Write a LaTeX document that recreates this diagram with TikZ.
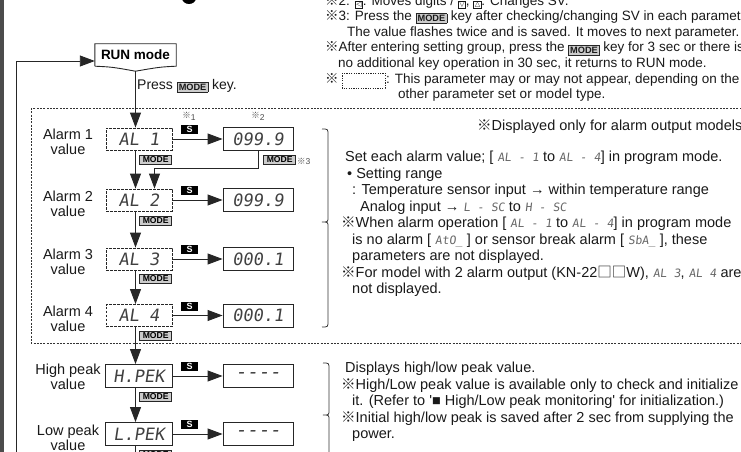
\documentclass[tikz,border=0pt]{standalone}
\usepackage{fontspec}
\setmainfont{Liberation Sans}
\newfontfamily\cjk{Noto Sans CJK JP}
\newfontfamily\segfont{DejaVu Sans Mono}[FakeSlant=0.15]
\newfontfamily\segsmall{DejaVu Sans Mono}[FakeSlant=0.12]
\newfontfamily\symfont{DejaVu Sans}
\usetikzlibrary{arrows.meta}
\newcommand\km{{\cjk ※}}
\newcommand\sq{{\cjk □}}
\newcommand\sg[1]{{\segsmall\fontsize{11.5}{11.5}\selectfont\color{black!60}#1}}
\newcommand\mk{\raisebox{-1.2pt}{\setlength\fboxsep{1.3pt}\setlength\fboxrule{0.6pt}\fcolorbox{black!85}{black!20}{\bfseries\fontsize{9.2}{9.2}\selectfont MODE}}}
\newcommand\symk[1]{\raisebox{-0.8pt}{\setlength\fboxsep{0.7pt}\setlength\fboxrule{0.6pt}\fbox{\symfont\fontsize{7}{7}\selectfont #1}}}
\tikzset{
 ln/.style={draw=black!85, line width=0.9pt},
 arr/.style={ln, -{Triangle[length=15pt,width=11pt]}},
 dbox/.style={draw=black!85, line width=0.9pt, dash pattern=on 2.6pt off 1.4pt, minimum width=66pt, minimum height=22pt, inner sep=0pt, font=\segfont\fontsize{17}{17}\selectfont, text=black!75},
 vbox/.style={draw=black!85, line width=0.9pt, minimum width=70pt, minimum height=23pt, inner sep=0pt, font=\segfont\fontsize{17}{17}\selectfont, text=black!75},
 skey/.style={fill=black, text=white, font=\bfseries\fontsize{9}{9}\selectfont, minimum width=17pt, minimum height=9pt, inner sep=0pt},
 mkey/.style={draw=black!85, fill=black!20, line width=0.6pt, font=\bfseries\fontsize{8.6}{8.6}\selectfont, minimum width=32pt, minimum height=9.5pt, inner sep=0pt, anchor=east},
 lbl/.style={font=\fontsize{14.5}{15}\selectfont, align=center, text=black!90},
 ntxt/.style={font=\fontsize{13.5}{16}\selectfont, anchor=base west, inner sep=0pt, text=black!90},
 txt/.style={font=\fontsize{14.5}{16}\selectfont, anchor=base west, inner sep=0pt, text=black!90},
 refm/.style={font=\fontsize{8.5}{9}\selectfont, text=black!70, inner sep=0pt}
}
\begin{document}
\begin{tikzpicture}[x=1pt,y=-1pt]
\useasboundingbox (0,0) rectangle (741,452);
\clip (0,0) rectangle (741,452);
% page edge bar and heading fragment
\fill[black!70] (0,0) rectangle (4,452);
\fill[black] (189,-2) ellipse [x radius=7pt, y radius=6pt];
% top notes
\node[ntxt] (n1) at (325,6) {\km2: \symk{◁}: Moves digits / \symk{▽}, \symk{△}: Changes SV.};
\node[ntxt] (n2) at (325,20.5) {\km3: Press the \mk\ key after checking/changing SV in each parameter};
\node[ntxt] (n3) at (347,36.5) {The value flashes twice and is saved. It moves to next parameter.};
\node[ntxt] (n4) at (325,52) {\km After entering setting group, press the \mk\ key for 3 sec or there is};
\node[ntxt] (n5) at (338,67.5) {no additional key operation in 30 sec, it returns to RUN mode.};
\node[ntxt] (n6) at (325,83) {\km};
\draw[black!85, line width=0.8pt, dash pattern=on 1.2pt off 1.2pt] (342,73) rectangle (385,88);
\node[ntxt] (n6b) at (386,83) {: This parameter may or may not appear, depending on the};
\node[ntxt] (n7) at (398,98) {other parameter set or model type.};
% RUN mode
\node[font=\bfseries\fontsize{13.5}{14}\selectfont, minimum width=81pt, minimum height=22pt, inner sep=0pt] (run) at (135.5,55) {RUN mode};
\draw[ln] (run.south west) -- (run.north west) -- (run.north east) -- (run.south east)
  .. controls (160,67) .. ([yshift=-5pt]run.south) .. controls (112,67) .. (run.south west);
\node[txt, font=\fontsize{14}{16}\selectfont] (press) at (137,89) {Press \mk\ key.};
% dashed group frame
\draw[black!80, line width=0.9pt, dash pattern=on 2pt off 1.3pt] (31,108) rectangle (770,343);
% labels
\node[lbl] (la1) at (68,141.5) {Alarm 1\\value};
\node[lbl] (la2) at (68,204) {Alarm 2\\value};
\node[lbl] (la3) at (68,261.5) {Alarm 3\\value};
\node[lbl] (la4) at (68,318.5) {Alarm 4\\value};
\node[lbl] (lh) at (68,377) {High peak\\value};
\node[lbl] (ll) at (68,437.5) {Low peak\\value};
% parameter boxes
\node[dbox] (a1) at (139,139) {AL 1};
\node[dbox] (a2) at (139,200) {AL 2};
\node[dbox] (a3) at (139,259) {AL 3};
\node[dbox] (a4) at (139,315.5) {AL 4};
\node[vbox, minimum width=67pt] (hp) at (139,376) {H.PEK};
\node[vbox, minimum width=67pt] (lp) at (139,434) {L.PEK};
% value boxes
\node[vbox] (v1) at (258,139) {099.9};
\node[vbox] (v2) at (258,200) {099.9};
\node[vbox] (v3) at (258,259) {000.1};
\node[vbox] (v4) at (258,315.5) {000.1};
\node[vbox, font=\segfont\fontsize{19}{19}\selectfont] (v5) at (258,376) {----};
\node[vbox, font=\segfont\fontsize{19}{19}\selectfont] (v6) at (258,434) {----};
% S keys
\node[skey] (s1) at (189.5,129.5) {S};
\node[skey] (s2) at (189.5,190.5) {S};
\node[skey] (s3) at (189.5,249.5) {S};
\node[skey] (s4) at (189.5,306) {S};
\node[skey] (s5) at (189.5,366.5) {S};
\node[skey] (s6) at (189.5,424.5) {S};
% MODE keys
\node[mkey] (m1) at (172,160) {MODE};
\node[mkey] (m2) at (172,221) {MODE};
\node[mkey] (m3) at (172,279) {MODE};
\node[mkey] (m4) at (172,336) {MODE};
\node[mkey] (m5) at (172,397) {MODE};
\node[mkey] (m6) at (172,455) {MODE};
\node[mkey] (m7) at (296,160) {MODE};
\node[refm, anchor=west] (r3) at (297,161) {\km3};
\node[refm] (r1) at (189,116) {\km\raisebox{-2pt}{1}};
\node[refm] (r2) at (258,116) {\km\raisebox{-2pt}{2}};
% connectors
\coordinate (bot) at (135.5,452);
\coordinate (rb) at (16,452);
\coordinate (turn) at (258,168);
\draw[arr] ([yshift=-5pt]run.south) -- (a1.north -| run.south);
\draw[arr] (a1.south -| run.south) -- (a2.north -| run.south);
\draw[arr] (a2.south -| run.south) -- (a3.north -| run.south);
\draw[arr] (a3.south -| run.south) -- (a4.north -| run.south);
\draw[arr] (a4.south -| run.south) -- (hp.north -| run.south);
\draw[arr] (hp.south -| run.south) -- (lp.north -| run.south);
\draw[ln] (lp.south -| run.south) -- (bot);
\draw[arr] (rb) |- ([yshift=-6pt]run.west);
\draw[arr] (v1.south) -- (turn) -| ([xshift=15.5pt]a2.north);
\draw[arr] (a1) -- (v1);
\draw[arr] (a2) -- (v2);
\draw[arr] (a3) -- (v3);
\draw[arr] (a4) -- (v4);
\draw[arr] (hp) -- (v5);
\draw[arr] (lp) -- (v6);
% braces
\draw[black!80, line width=0.8pt] (322,129) .. controls (328,129) .. (328,135) -- (328,217) .. controls (328,222) .. (322,222) .. controls (328,222) .. (328,227) -- (328,321) .. controls (328,327) .. (322,327);
\draw[black!80, line width=0.8pt] (323,363) .. controls (329,363) .. (329,369) -- (329,410) .. controls (329,415) .. (323,415) .. controls (329,415) .. (329,420) -- (329,460);
% alarm text
\node[txt] (t0) at (477,130) {\km Displayed only for alarm output models};
\node[txt] (t1) at (345,161.5) {Set each alarm value; [ \sg{AL - 1} to \sg{AL - 4}] in program mode.};
\node[txt] (t2) at (347,178) {• Setting range};
\node[txt] (t3) at (352,194.5) {: Temperature sensor input → within temperature range};
\node[txt] (t4) at (360,211) {Analog input → \sg{L - SC} to \sg{H - SC}};
\node[txt] (t5) at (341,227.5) {\km When alarm operation [ \sg{AL - 1} to \sg{AL - 4}] in program mode};
\node[txt] (t6) at (352,244) {is no alarm [ \sg{AtO\_} ] or sensor break alarm [ \sg{SbA\_} ], these};
\node[txt] (t7) at (352,260.5) {parameters are not displayed.};
\node[txt] (t8) at (341,277) {\km For model with 2 alarm output (KN-22\sq\sq W), \sg{AL 3}, \sg{AL 4} are};
\node[txt] (t9) at (352,293.5) {not displayed.};
% peak text
\node[txt] (p1) at (345,372) {Displays high/low peak value.};
\node[txt] (p2) at (341,389) {\km High/Low peak value is available only to check and initialize};
\node[txt] (p3) at (352,405.5) {it. (Refer to \textquotesingle■ High/Low peak monitoring\textquotesingle\ for initialization.)};
\node[txt] (p4) at (341,422) {\km Initial high/low peak is saved after 2 sec from supplying the};
\node[txt] (p5) at (352,438.5) {power.};
\end{tikzpicture}
\end{document}
